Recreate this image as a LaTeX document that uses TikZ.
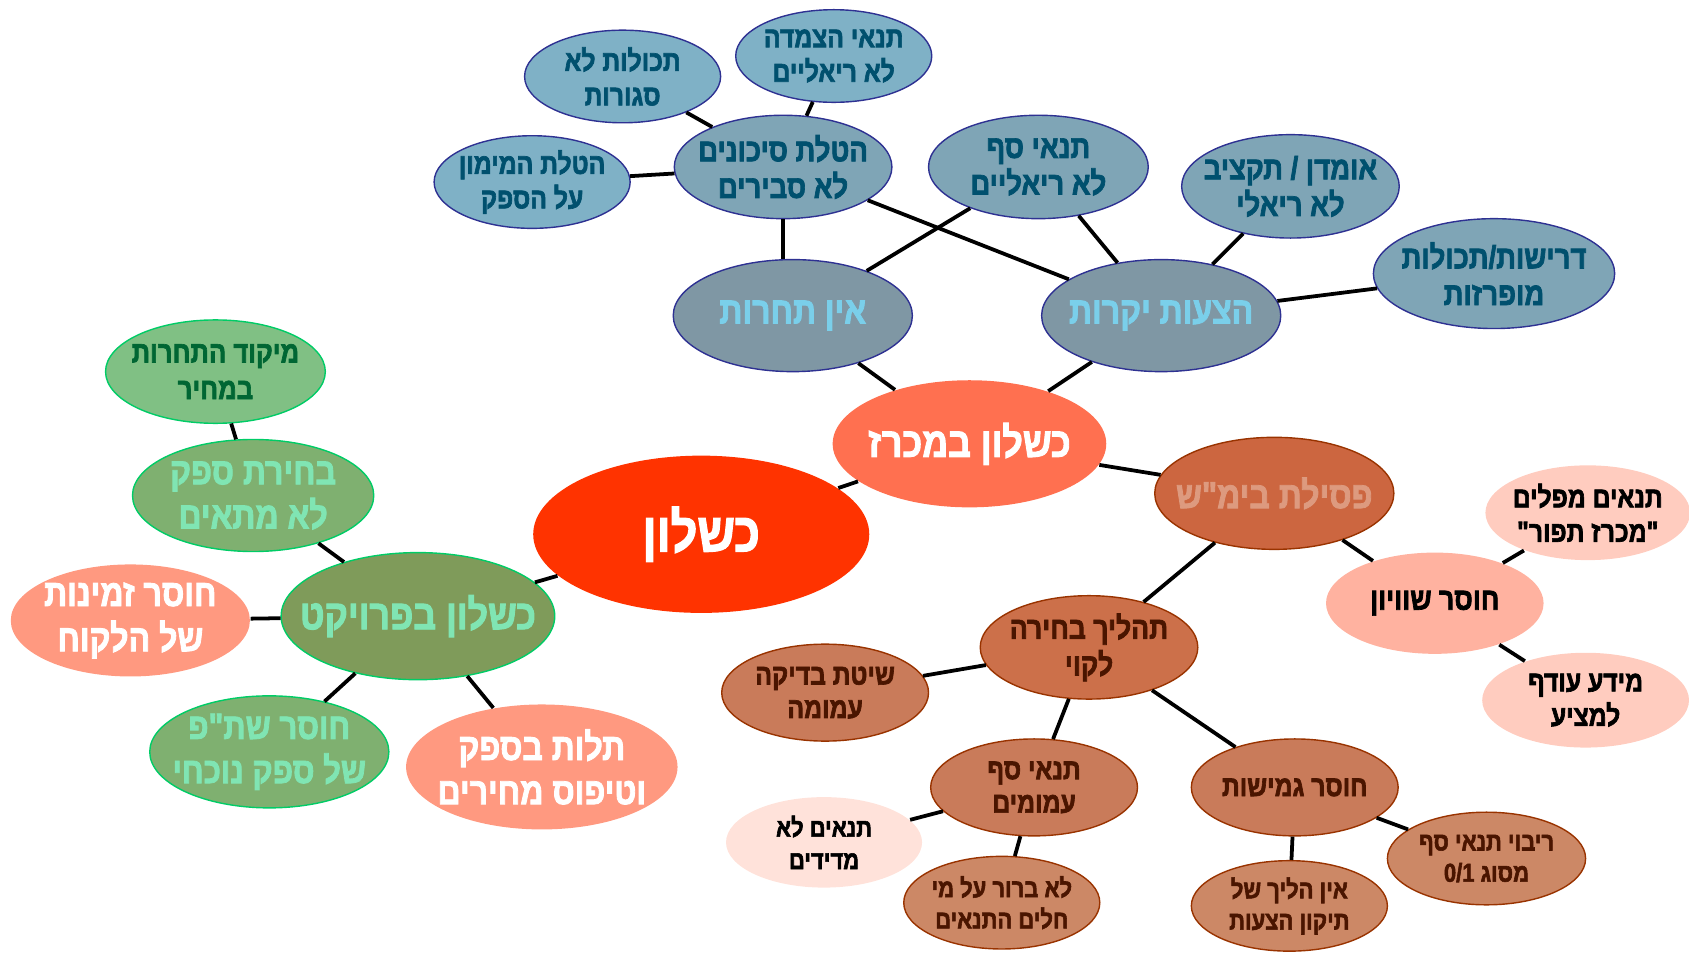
\documentclass[tikz,border=0pt]{standalone}
\usepackage{fontspec}
\usetikzlibrary{shapes.geometric}
\TeXXeTstate=1
\newfontfamily\hebb[Script=Hebrew,FakeStretch=0.85,FakeBold=2.2]{Liberation Sans Bold}
\newcommand\hb[1]{\beginR #1\endR}
\newcommand\fs[2]{\hebb\fontsize{#1}{#2}\selectfont}
\definecolor{rootc}{HTML}{FF3300}
\definecolor{tenderc}{HTML}{FF7050}
\definecolor{bluemid}{HTML}{7F97A4}
\definecolor{bluetwo}{HTML}{7FA5B6}
\definecolor{bluethree}{HTML}{7FB1C6}
\definecolor{blueedge}{HTML}{2E3192}
\definecolor{bluetext}{HTML}{7ACFEA}
\definecolor{tealtext}{HTML}{00506E}
\definecolor{brownone}{HTML}{CC6640}
\definecolor{browntwo}{HTML}{CC704A}
\definecolor{brownthree}{HTML}{C97B5A}
\definecolor{brownfour}{HTML}{CC8866}
\definecolor{brownedge}{HTML}{993300}
\definecolor{browntext}{HTML}{DD9A7F}
\definecolor{darkbrown}{HTML}{4A1500}
\definecolor{salmonone}{HTML}{FFB2A0}
\definecolor{salmontwo}{HTML}{FFCCBF}
\definecolor{salmonthree}{HTML}{FFE2DA}
\definecolor{salmon}{HTML}{FF9980}
\definecolor{greenone}{HTML}{7F9B5A}
\definecolor{greentwo}{HTML}{7FB070}
\definecolor{greenthree}{HTML}{80C084}
\definecolor{greenedge}{HTML}{00CC66}
\definecolor{minttext}{HTML}{80E5B3}
\definecolor{darkgreen}{HTML}{006633}
\tikzset{
  bubble/.style={ellipse, inner sep=-80pt, align=center, line width=1.3pt},
  bluebubble/.style={bubble, draw=blueedge},
  brownbubble/.style={bubble, draw=brownedge},
  greenbubble/.style={bubble, draw=greenedge},
  link/.style={line width=3.5pt, black},
}
\begin{document}
\begin{tikzpicture}[x=1pt,y=-1pt]
\useasboundingbox (0,0) rectangle (1568,885);
% nodes
\node[bubble, fill=rootc, text=white, minimum width=312, minimum height=146,
  font=\fs{51}{56}] (root) at (651,496) {\hb{כשלון}};
\node[bubble, fill=tenderc, text=white, minimum width=254, minimum height=118,
  font=\fs{39}{44}] (tender) at (900,412) {\hb{כשלון במכרז}};
\node[bluebubble, fill=bluemid, text=bluetext, minimum width=222, minimum height=104,
  font=\fs{35}{40}] (nocomp) at (736,293) {\hb{אין תחרות}};
\node[bluebubble, fill=bluemid, text=bluetext, minimum width=222, minimum height=104,
  font=\fs{35}{40}] (expens) at (1078,293) {\hb{הצעות יקרות}};
\node[bluebubble, fill=bluetwo, text=tealtext, minimum width=202, minimum height=96,
  font=\fs{30}{34}] (risk) at (727,155) {\hb{הטלת סיכונים}\\\hb{לא סבירים}};
\node[bluebubble, fill=bluethree, text=tealtext, minimum width=182, minimum height=86,
  font=\fs{27}{32}] (scope) at (578,71) {\hb{תכולות לא}\\\hb{סגורות}};
\node[bluebubble, fill=bluethree, text=tealtext, minimum width=182, minimum height=86,
  font=\fs{27}{32}] (index) at (774,52) {\hb{תנאי הצמדה}\\\hb{לא ריאליים}};
\node[bluebubble, fill=bluethree, text=tealtext, minimum width=182, minimum height=86,
  font=\fs{27}{32}] (finance) at (494,169) {\hb{הטלת המימון}\\\hb{על הספק}};
\node[bluebubble, fill=bluetwo, text=tealtext, minimum width=204, minimum height=96,
  font=\fs{30}{34}] (thresh) at (964,155) {\hb{תנאי סף}\\\hb{לא ריאליים}};
\node[bluebubble, fill=bluetwo, text=tealtext, minimum width=202, minimum height=96,
  font=\fs{30}{34}] (budget) at (1198,173) {\hb{אומדן / תקציב}\\\hb{לא ריאלי}};
\node[bluebubble, fill=bluetwo, text=tealtext, minimum width=224, minimum height=102,
  font=\fs{30}{34}] (reqs) at (1387,254) {\hb{דרישות/תכולות}\\\hb{מופרזות}};
\node[brownbubble, fill=brownone, text=browntext, minimum width=222, minimum height=104,
  font=\fs{35}{40}] (court) at (1183,458) {\hb{פסילת בימ"ש}};
\node[bubble, fill=salmonone, text=black, minimum width=202, minimum height=94,
  font=\fs{29}{34}] (inequal) at (1332,560) {\hb{חוסר שוויון}};
\node[bubble, fill=salmontwo, text=black, minimum width=190, minimum height=88,
  font=\fs{27}{32}] (tailor) at (1474,476) {\hb{תנאים מפלים}\\\hb{"מכרז תפור"}};
\node[bubble, fill=salmontwo, text=black, minimum width=192, minimum height=88,
  font=\fs{27}{32}] (info) at (1472,650) {\hb{מידע עודף}\\\hb{למציע}};
\node[brownbubble, fill=browntwo, text=darkbrown, minimum width=202, minimum height=96,
  font=\fs{29}{34}] (process) at (1011,601) {\hb{תהליך בחירה}\\\hb{לקוי}};
\node[brownbubble, fill=brownthree, text=darkbrown, minimum width=192, minimum height=90,
  font=\fs{27}{31}] (method) at (766,643) {\hb{שיטת בדיקה}\\\hb{עמומה}};
\node[brownbubble, fill=brownthree, text=darkbrown, minimum width=192, minimum height=90,
  font=\fs{27}{31}] (vague) at (960,731) {\hb{תנאי סף}\\\hb{עמומים}};
\node[brownbubble, fill=brownthree, text=darkbrown, minimum width=192, minimum height=90,
  font=\fs{27}{31}] (rigid) at (1202,731) {\hb{חוסר גמישות}};
\node[bubble, fill=salmonthree, text=black, minimum width=182, minimum height=84,
  font=\fs{24}{30}] (unmeas) at (765,782) {\hb{תנאים לא}\\\hb{מדידים}};
\node[brownbubble, fill=brownfour, text=darkbrown, minimum width=182, minimum height=86,
  font=\fs{24}{29}] (whom) at (930,838) {\hb{לא ברור על מי}\\\hb{חלים התנאים}};
\node[brownbubble, fill=brownfour, text=darkbrown, minimum width=182, minimum height=84,
  font=\fs{24}{29}] (fixing) at (1197,841) {\hb{אין הליך של}\\\hb{תיקון הצעות}};
\node[brownbubble, fill=brownfour, text=darkbrown, minimum width=184, minimum height=86,
  font=\fs{24}{29}] (binary) at (1380,797) {\hb{ריבוי תנאי סף}\\\hb{מסוג \beginL 0/1\endL}};
\node[greenbubble, fill=greenone, text=minttext, minimum width=254, minimum height=118,
  font=\fs{39}{44}] (project) at (388,572) {\hb{כשלון בפרויקט}};
\node[greenbubble, fill=greentwo, text=minttext, minimum width=224, minimum height=104,
  font=\fs{35}{41}] (wrong) at (235,460) {\hb{בחירת ספק}\\\hb{לא מתאים}};
\node[greenbubble, fill=greenthree, text=darkgreen, minimum width=204, minimum height=96,
  font=\fs{28}{34}] (price) at (200,345) {\hb{מיקוד התחרות}\\\hb{במחיר}};
\node[bubble, fill=salmon, text=white, minimum width=222, minimum height=104,
  font=\fs{35}{42}] (avail) at (121,576) {\hb{חוסר זמינות}\\\hb{של הלקוח}};
\node[greenbubble, fill=greentwo, text=minttext, minimum width=222, minimum height=104,
  font=\fs{34}{41}] (coop) at (250,698) {\hb{חוסר שת"פ}\\\hb{של ספק נוכחי}};
\node[bubble, fill=salmon, text=white, minimum width=252, minimum height=116,
  font=\fs{35}{41}] (depend) at (503,712) {\hb{תלות בספק}\\\hb{וטיפוס מחירים}};
% links
\begin{scope}[link]
\draw (root) -- (tender);
\draw (root) -- (project);
\draw (tender) -- (nocomp);
\draw (tender) -- (expens);
\draw (tender) -- (court);
\draw (nocomp.north -| risk.south) -- (risk.south);
\draw (nocomp) -- (thresh);
\draw (expens) -- (risk);
\draw (expens) -- (thresh);
\draw (expens) -- (budget);
\draw (expens) -- (reqs);
\draw (risk) -- (scope);
\draw (risk) -- (index);
\draw (risk) -- (finance);
\draw (court) -- (process);
\draw (court) -- (inequal);
\draw (inequal) -- (tailor);
\draw (inequal) -- (info);
\draw (process) -- (method);
\draw (process) -- (vague);
\draw (process) -- (rigid);
\draw (vague) -- (unmeas);
\draw (vague) -- (whom);
\draw (rigid) -- (fixing);
\draw (rigid) -- (binary);
\draw (project) -- (wrong);
\draw (wrong) -- (price);
\draw (project) -- (avail);
\draw (project) -- (coop);
\draw (project) -- (depend);
\end{scope}
\end{tikzpicture}
\end{document}
